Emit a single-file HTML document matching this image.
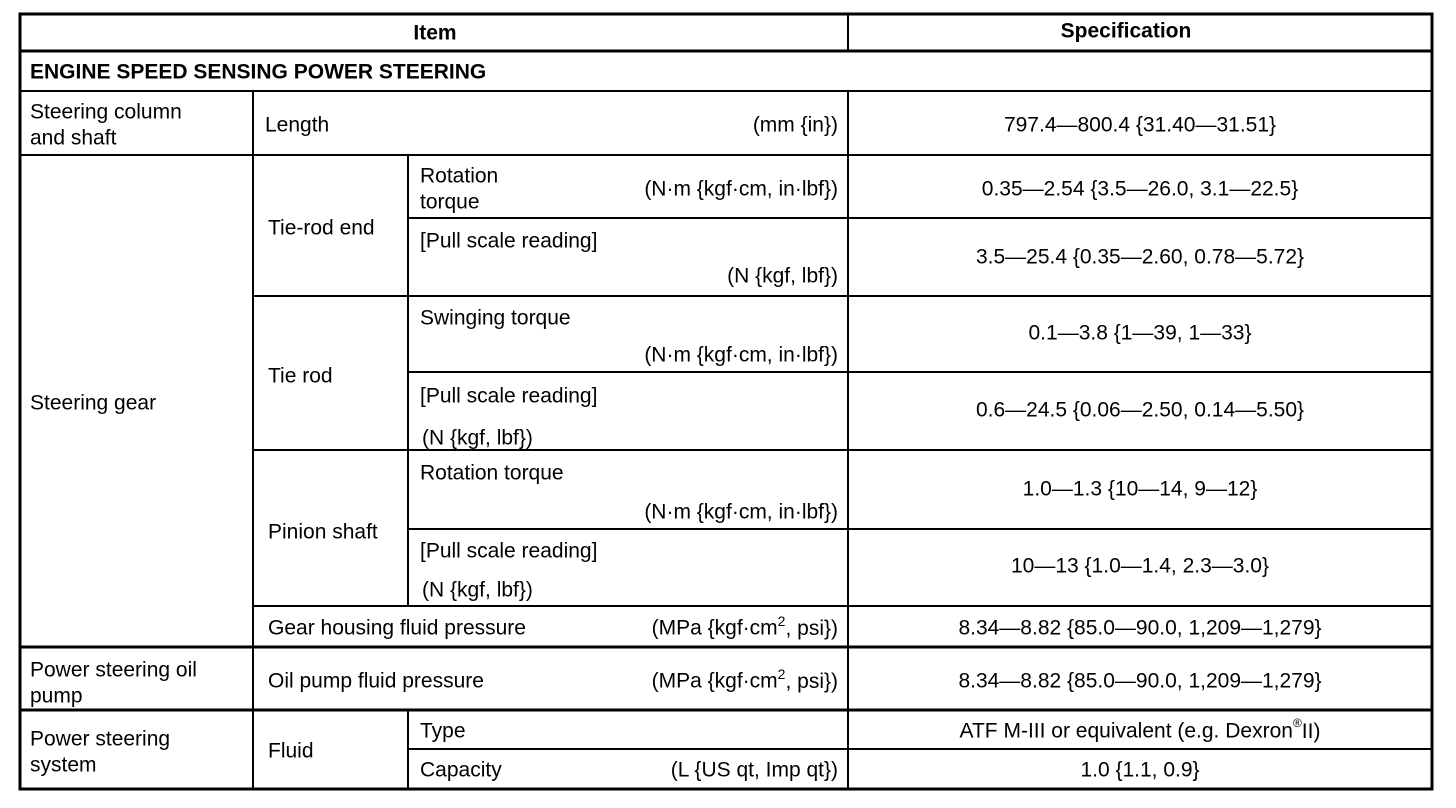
<!DOCTYPE html>
<html><head><meta charset="utf-8"><style>
html,body{margin:0;padding:0;background:#fff;}
svg{display:block;}
text{font-family:"Liberation Sans",Arial,sans-serif;font-size:21px;fill:#000;dominant-baseline:central;}
.b{font-weight:bold;}
.r{text-anchor:end;}
.c{text-anchor:middle;}
</style></head><body>
<svg width="1456" height="808" viewBox="0 0 1456 808" xmlns="http://www.w3.org/2000/svg">
<g stroke="#000" stroke-width="2" fill="none">
<rect x="20" y="14" width="1412" height="775" stroke-width="3"/>
<line x1="20" y1="51" x2="1432" y2="51" stroke-width="3"/>
<line x1="20" y1="91" x2="1432" y2="91"/>
<line x1="20" y1="155" x2="1432" y2="155"/>
<line x1="408" y1="218" x2="1432" y2="218"/>
<line x1="253" y1="296" x2="1432" y2="296"/>
<line x1="408" y1="372" x2="1432" y2="372"/>
<line x1="253" y1="450" x2="1432" y2="450"/>
<line x1="408" y1="529" x2="1432" y2="529"/>
<line x1="253" y1="606" x2="1432" y2="606"/>
<line x1="20" y1="647" x2="1432" y2="647" stroke-width="3"/>
<line x1="20" y1="710" x2="1432" y2="710" stroke-width="3"/>
<line x1="408" y1="749" x2="1432" y2="749"/>
<line x1="848" y1="14" x2="848" y2="51"/>
<line x1="848" y1="91" x2="848" y2="789"/>
<line x1="253" y1="91" x2="253" y2="789"/>
<line x1="408" y1="155" x2="408" y2="606"/>
<line x1="408" y1="710" x2="408" y2="789"/>
</g>
<text class="b c" x="435" y="33">Item</text>
<text class="b c" x="1126" y="31">Specification</text>
<text class="b" x="30" y="72">ENGINE SPEED SENSING POWER STEERING</text>
<text x="30" y="112">Steering column</text>
<text x="30" y="138">and shaft</text>
<text x="265" y="125">Length</text>
<text class="r" x="838" y="125">(mm {in})</text>
<text class="c" x="1140" y="125">797.4—800.4 {31.40—31.51}</text>

<text x="420" y="176">Rotation</text>
<text x="420" y="202">torque</text>
<text class="r" x="838" y="189">(N·m {kgf·cm, in·lbf})</text>
<text class="c" x="1140" y="189">0.35—2.54 {3.5—26.0, 3.1—22.5}</text>
<text x="268" y="228">Tie-rod end</text>
<text x="420" y="241">[Pull scale reading]</text>
<text class="r" x="838" y="276">(N {kgf, lbf})</text>
<text class="c" x="1140" y="257">3.5—25.4 {0.35—2.60, 0.78—5.72}</text>

<text x="420" y="318">Swinging torque</text>
<text class="r" x="838" y="355">(N·m {kgf·cm, in·lbf})</text>
<text class="c" x="1140" y="333">0.1—3.8 {1—39, 1—33}</text>
<text x="268" y="376">Tie rod</text>
<text x="30" y="403">Steering gear</text>
<text x="420" y="396">[Pull scale reading]</text>
<text x="422" y="438">(N {kgf, lbf})</text>
<text class="c" x="1140" y="410">0.6—24.5 {0.06—2.50, 0.14—5.50}</text>

<text x="420" y="473">Rotation torque</text>
<text class="r" x="838" y="512">(N·m {kgf·cm, in·lbf})</text>
<text class="c" x="1140" y="489">1.0—1.3 {10—14, 9—12}</text>
<text x="268" y="532">Pinion shaft</text>
<text x="420" y="551">[Pull scale reading]</text>
<text x="422" y="590">(N {kgf, lbf})</text>
<text class="c" x="1140" y="566">10—13 {1.0—1.4, 2.3—3.0}</text>

<text x="268" y="628">Gear housing fluid pressure</text>
<text class="r" x="838" y="628">(MPa {kgf·cm<tspan font-size="14" dy="-7">2</tspan><tspan dy="7">, psi})</tspan></text>
<text class="c" x="1140" y="628">8.34—8.82 {85.0—90.0, 1,209—1,279}</text>

<text x="30" y="670">Power steering oil</text>
<text x="30" y="696">pump</text>
<text x="268" y="681">Oil pump fluid pressure</text>
<text class="r" x="838" y="681">(MPa {kgf·cm<tspan font-size="14" dy="-7">2</tspan><tspan dy="7">, psi})</tspan></text>
<text class="c" x="1140" y="681">8.34—8.82 {85.0—90.0, 1,209—1,279}</text>

<text x="30" y="739">Power steering</text>
<text x="30" y="765">system</text>
<text x="268" y="751">Fluid</text>
<text x="420" y="731">Type</text>
<text class="c" x="1140" y="731">ATF M-III or equivalent (e.g. Dexron<tspan font-size="12" dy="-8">®</tspan><tspan dy="8">II)</tspan></text>
<text x="420" y="770">Capacity</text>
<text class="r" x="838" y="770">(L {US qt, Imp qt})</text>
<text class="c" x="1140" y="770">1.0 {1.1, 0.9}</text>
</svg>
</body></html>
